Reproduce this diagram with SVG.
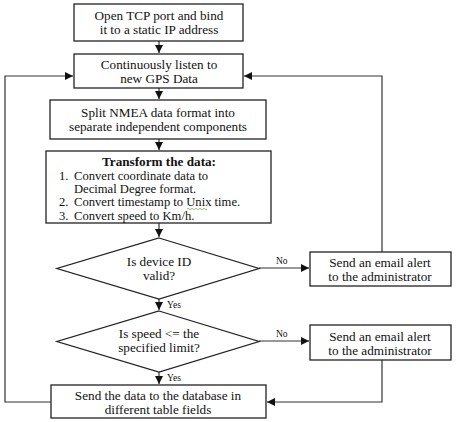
<svg xmlns="http://www.w3.org/2000/svg" width="458" height="422" viewBox="0 0 458 422">
<defs>
<marker id="ah" markerWidth="9" markerHeight="9" refX="8" refY="4.5" orient="auto" markerUnits="userSpaceOnUse">
<path d="M0,0.5 L8,4.5 L0,8.5 Z" fill="#111"/>
</marker>
<style>
.box{fill:#fff;stroke:#222;stroke-width:1.3}
.t{font-family:"Liberation Serif","Times New Roman",serif;font-size:13.2px;fill:#111;text-anchor:middle}
.tl{font-family:"Liberation Serif","Times New Roman",serif;font-size:12.6px;fill:#111}
.s{font-family:"Liberation Serif","Times New Roman",serif;font-size:9.5px;fill:#111}
.c{fill:none;stroke:#333;stroke-width:1.2}
</style>
</defs>
<rect width="458" height="422" fill="#fff"/>
<g id="connectors">
<path class="c" d="M159,41 V53" marker-end="url(#ah)"/>
<path class="c" d="M159,88 V99" marker-end="url(#ah)"/>
<path class="c" d="M159,139 V150" marker-end="url(#ah)"/>
<path class="c" d="M159,223 V237" marker-end="url(#ah)"/>
<path class="c" d="M159,299 V310" marker-end="url(#ah)"/>
<path class="c" d="M159,372 V384" marker-end="url(#ah)"/>
<path class="c" d="M259,268 H309" marker-end="url(#ah)"/>
<path class="c" d="M259,341 H309" marker-end="url(#ah)"/>
<path class="c" d="M51,402 H5 V76 H73" marker-end="url(#ah)"/>
<path class="c" d="M382,252 V76 H244" marker-end="url(#ah)"/>
<path class="c" d="M382,360 V402 H267" marker-end="url(#ah)"/>
<text class="s" x="276" y="264">No</text>
<text class="s" x="276" y="337">No</text>
<text class="s" x="167" y="308">Yes</text>
<text class="s" x="167" y="381">Yes</text>
</g>
<g id="n1">
<rect class="box" x="74" y="4" width="169" height="37"/>
<text class="t" x="159" y="20">Open TCP port and bind</text>
<text class="t" x="159" y="34">it to a static IP address</text>
</g>
<g id="n2">
<rect class="box" x="74" y="54" width="169" height="34"/>
<text class="t" x="159" y="68.5">Continuously listen to</text>
<text class="t" x="159" y="82.5">new GPS Data</text>
</g>
<g id="n3">
<rect class="box" x="50" y="100" width="216" height="39"/>
<text class="t" x="158" y="116.5">Split NMEA data format into</text>
<text class="t" x="158" y="131">separate independent components</text>
</g>
<g id="n4">
<rect class="box" x="46" y="151" width="225" height="72"/>
<text class="t" x="159" y="166" font-weight="bold">Transform the data:</text>
<text class="tl" x="59" y="179.6">1.</text>
<text class="tl" x="74" y="179.6">Convert coordinate data to</text>
<text class="tl" x="74" y="193">Decimal Degree format.</text>
<text class="tl" x="59" y="206.4">2.</text>
<text class="tl" x="74" y="206.4">Convert timestamp to Unix time.</text>
<text class="tl" x="59" y="219.8">3.</text>
<text class="tl" x="74" y="219.8">Convert speed to Km/h.</text>
<path d="M187,209 q1,-1.5 2,0 t2,0 t2,0 t2,0 t2,0 t2,0 t2,0 t2,0 t2,0 t2,0" fill="none" stroke="#6ab04c" stroke-width="0.8"/>
</g>
<g id="d1">
<polygon class="box" points="159,238 259,268.5 159,299 57,268.5"/>
<text class="t" x="159" y="266">Is device ID</text>
<text class="t" x="159" y="280">valid?</text>
</g>
<g id="r1">
<rect class="box" x="310" y="252" width="141" height="34"/>
<text class="t" x="380" y="267">Send an email alert</text>
<text class="t" x="380" y="281">to the administrator</text>
</g>
<g id="d2">
<polygon class="box" points="159,311 259,341.5 159,372 57,341.5"/>
<text class="t" x="159" y="338">Is speed &lt;= the</text>
<text class="t" x="159" y="352">specified limit?</text>
</g>
<g id="r2">
<rect class="box" x="310" y="325" width="141" height="35"/>
<text class="t" x="380" y="341">Send an email alert</text>
<text class="t" x="380" y="355">to the administrator</text>
</g>
<g id="n5">
<rect class="box" x="51" y="385" width="215" height="33"/>
<text class="t" x="158" y="400">Send the data to the database in</text>
<text class="t" x="158" y="413.5">different table fields</text>
</g>
</svg>
